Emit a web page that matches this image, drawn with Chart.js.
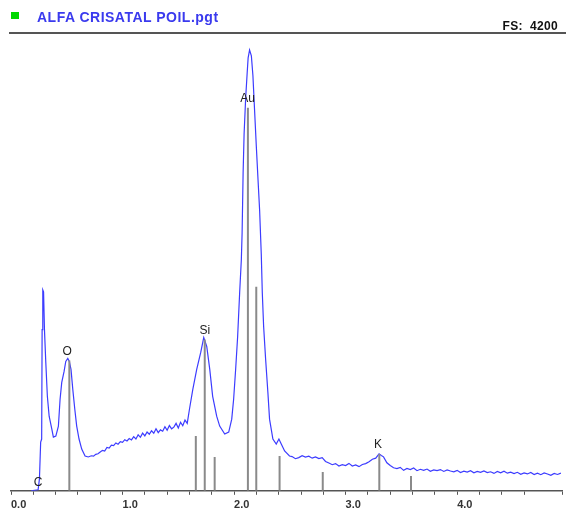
<!DOCTYPE html>
<html>
<head>
<meta charset="utf-8">
<script src="https://cdn.jsdelivr.net/npm/chart.js@4.4.1/dist/chart.umd.min.js"></script>
<style>
  body { margin: 0; background: #fff; }
  #wrap { position: relative; width: 566px; height: 517px; }
  #legendBox { position: absolute; left: 11px; top: 12px; width: 8px; height: 7px; background: #00d800; }
  #title { position: absolute; left: 37px; top: 9px; font: bold 14px "Liberation Sans", Arial, sans-serif; letter-spacing: 0.5px; color: #3a3aee; }
  #fs { position: absolute; right: 8px; top: 19px; font: bold 12px "Liberation Sans", Arial, sans-serif; letter-spacing: 0.3px; color: #111; }
  #topLine { position: absolute; left: 9px; top: 32px; width: 557px; height: 2px; background: #555; }
  canvas { position: absolute; left: 0; top: 0; }
</style>
</head>
<body>
<div id="wrap">
  <canvas id="spectrum" width="566" height="517"></canvas>
  <div id="legendBox"></div>
  <div id="title">ALFA CRISATAL POIL.pgt</div>
  <div id="fs">FS:&nbsp; 4200</div>
  <div id="topLine"></div>
</div>
<script>
// spectrum (keV, counts)
const energies = [
  0.18, 0.243, 0.255, 0.266, 0.275, 0.279, 0.285, 0.292, 0.300, 0.312, 0.326, 0.342, 0.366, 0.380,
  0.402, 0.425, 0.440, 0.455, 0.476, 0.491, 0.509, 0.523, 0.538, 0.554, 0.572, 0.589, 0.610, 0.634,
  0.664, 0.693,
  0.72, 0.74, 0.76, 0.78, 0.80, 0.82, 0.84, 0.86, 0.88, 0.90, 0.92, 0.94, 0.96, 0.98, 1.00,
  1.02, 1.04, 1.06, 1.08, 1.10, 1.12, 1.14, 1.16, 1.18, 1.20, 1.22, 1.24, 1.26, 1.28, 1.30,
  1.32, 1.34, 1.36, 1.38, 1.40, 1.42, 1.44, 1.46, 1.48, 1.50, 1.52, 1.54, 1.56, 1.58, 1.60,
  1.630, 1.665, 1.701, 1.728, 1.755, 1.782, 1.808, 1.844, 1.871, 1.916, 1.952, 1.979, 1.996,
  2.014, 2.032, 2.050, 2.065, 2.072, 2.081, 2.090, 2.104, 2.117, 2.126, 2.139, 2.155, 2.169,
  2.184, 2.199, 2.214, 2.229, 2.244, 2.253, 2.265, 2.283, 2.303, 2.318, 2.348, 2.378, 2.402,
  2.423, 2.453, 2.497,
  2.52, 2.55, 2.58, 2.61, 2.64, 2.67, 2.70, 2.73, 2.76, 2.79, 2.82, 2.85, 2.88, 2.91, 2.94,
  2.97, 3.00, 3.03, 3.06, 3.09, 3.12, 3.15, 3.18, 3.21, 3.24, 3.27, 3.30, 3.32, 3.34, 3.37,
  3.40, 3.43, 3.46, 3.49, 3.52, 3.55, 3.58, 3.61, 3.64, 3.67, 3.70, 3.73, 3.76, 3.79, 3.82,
  3.85, 3.88, 3.91, 3.94, 3.97, 4.00, 4.03, 4.06, 4.09, 4.12, 4.15, 4.18, 4.21, 4.24, 4.27,
  4.30, 4.33, 4.36, 4.39, 4.42, 4.45, 4.48, 4.51, 4.54, 4.57, 4.60, 4.63, 4.66, 4.69, 4.72,
  4.75, 4.78, 4.81, 4.84, 4.87, 4.90, 4.93
];
const counts = [
  0, 9, 110, 448, 476, 1482, 1848, 1830, 1482, 1180, 869, 686, 567, 494,
  503, 595, 842, 997, 1098, 1190, 1217, 1190, 1116, 933, 750, 595, 476, 384,
  320, 311,
  322, 318, 335, 340, 357, 372, 365, 398, 392, 420, 415, 440, 428, 452, 445,
  470, 458, 480, 468, 498, 476, 515, 492, 530, 505, 540, 520, 552, 530, 570,
  535, 560, 548, 590, 556, 600, 570, 585, 620, 578, 630, 598, 650, 620, 750,
  933, 1116, 1272, 1409, 1327, 1116, 869, 686, 595, 522, 540, 659, 842,
  1116, 1418, 1821, 2123, 2370, 2919, 3285, 3614, 3834, 3980, 4053, 3999, 3816,
  3495, 3175, 2873, 2580, 2169, 1821, 1510, 1208, 906, 659, 476, 430, 476,
  430, 366, 320,
  315, 295, 305, 322, 310, 318, 300, 312, 296, 305, 270, 255, 240, 250, 228,
  240, 232, 252, 228, 238, 222, 242, 250, 268, 290, 300, 340, 325, 312, 258,
  232, 212, 205, 215, 188, 205, 195, 210, 185, 198, 188, 200, 180, 192, 185,
  195, 178, 192, 182, 175, 188, 168, 180, 172, 185, 165, 178, 170, 182, 168,
  175, 160, 178, 165, 180, 162, 172, 158, 170, 152, 165, 155, 168, 150, 162,
  148, 165, 155, 142, 160, 150, 162
];

// element marker lines (keV, height in counts)
const markerEnergies = [0.523, 1.657, 1.737, 1.826, 2.124, 2.199, 2.408, 2.795, 3.302, 3.586];
const markerHeights = [1199, 503, 1391, 311, 3523, 1876, 320, 174, 339, 137];

// element labels
const elementNames = ['C', 'O', 'Si', 'Au', 'K'];
const elementEnergies = [0.243, 0.503, 1.737, 2.122, 3.29];
const elementHeights = [0, 1199, 1391, 3523, 339];

const xTickLabels = ['0.0', '1.0', '2.0', '3.0', '4.0'];

const spectrumPoints = energies.map((e, i) => ({ x: e, y: counts[i] }));

const markerPoints = [];
markerEnergies.forEach((e, i) => {
  markerPoints.push({ x: e, y: 0 }, { x: e, y: markerHeights[i] }, { x: e, y: null });
});

const elementLabels = {
  id: 'elementLabels',
  afterDatasetsDraw(chart) {
    const ctx = chart.ctx;
    const xs = chart.scales.x;
    const ys = chart.scales.y;
    ctx.save();
    ctx.font = '12px "Liberation Sans", Arial, sans-serif';
    ctx.fillStyle = '#222';
    ctx.textAlign = 'center';
    ctx.textBaseline = 'bottom';
    elementNames.forEach((name, i) => {
      const px = xs.getPixelForValue(elementEnergies[i]);
      const py = ys.getPixelForValue(elementHeights[i]) - (elementHeights[i] === 0 ? 2 : 3);
      ctx.fillText(name, px, py);
    });
    ctx.restore();
  }
};

new Chart(document.getElementById('spectrum').getContext('2d'), {
  type: 'line',
  data: {
    datasets: [{
      data: markerPoints,
      borderColor: '#8a8a8a',
      borderWidth: 2,
      pointRadius: 0,
      spanGaps: false,
      tension: 0
    }, {
      data: spectrumPoints,
      borderColor: '#3c3cff',
      borderWidth: 1.2,
      pointRadius: 0,
      tension: 0
    }]
  },
  options: {
    responsive: false,
    animation: false,
    layout: { padding: { left: 11, right: 3, top: 34, bottom: 1 } },
    plugins: {
      legend: { display: false },
      tooltip: { enabled: false }
    },
    scales: {
      x: {
        type: 'linear',
        min: 0,
        max: 4.94,
        grid: { drawOnChartArea: false, drawTicks: true, tickLength: 4, color: '#555' },
        border: { display: true, color: '#555', width: 1.5 },
        ticks: {
          stepSize: 0.2,
          autoSkip: false,
          maxRotation: 0,
          align: 'start',
          padding: 4,
          color: '#333',
          font: { family: '"Liberation Sans", Arial, sans-serif', size: 11, weight: 'bold' },
          callback: function(value) {
            const r = Math.round(value);
            if (Math.abs(value - r) < 1e-6 && xTickLabels[r] !== undefined) {
              return xTickLabels[r];
            }
            return '';
          }
        }
      },
      y: {
        display: false,
        min: 0,
        max: 4200
      }
    }
  },
  plugins: [elementLabels]
});
</script>
</body>
</html>
